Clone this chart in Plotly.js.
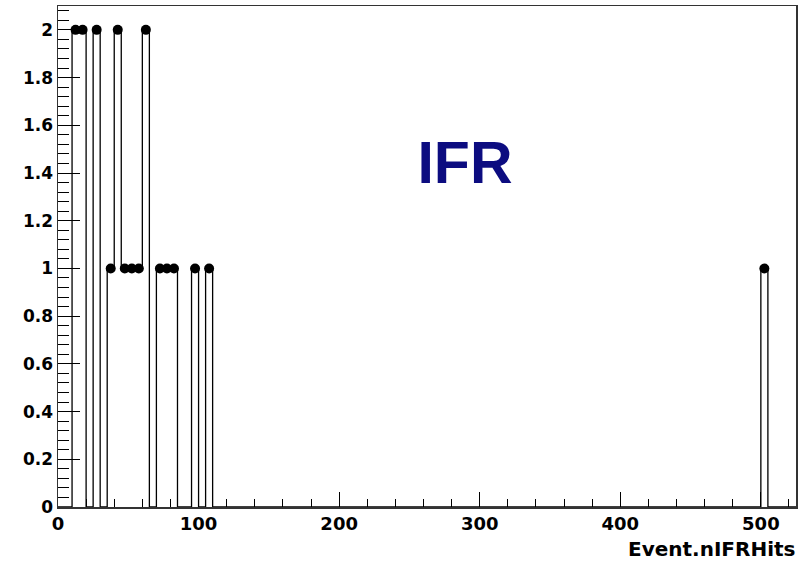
<!DOCTYPE html>
<html>
<head>
<meta charset="utf-8">
<script src="https://cdn.plot.ly/plotly-3.0.1.min.js"></script>
<style>html,body{margin:0;padding:0;background:#fff;}#chart{width:807px;height:565px;}</style>
</head>
<body>
<div id="chart"></div>
<script>
// Histogram of Event.nIFRHits: bin width 5, range 0..525
const binWidth = 5;
const xMin = 0;
const xMax = 525;
const binLowEdges = [10, 15, 25, 35, 40, 45, 50, 55, 60, 70, 75, 80, 95, 105, 500];
const binCounts   = [2,  2,  2,  1,  2,  1,  1,  1,  2,  1,  1,  1,  1,  1,  1];
const xTickVals = [0, 100, 200, 300, 400, 500];
const yTickVals = [0, 0.2, 0.4, 0.6, 0.8, 1, 1.2, 1.4, 1.6, 1.8, 2];

// full step outline (zero-filled bins)
const nBins = Math.round((xMax - xMin) / binWidth);
const edges = [];
const contents = [];
for (let i = 0; i <= nBins; i++) {
  const e = xMin + i * binWidth;
  edges.push(e);
  const k = binLowEdges.indexOf(e);
  contents.push(k >= 0 ? binCounts[k] : 0);
}
contents[nBins] = contents[nBins - 1];

const centers = binLowEdges.map(e => e + binWidth / 2);

const font = 'Liberation Sans, Arial, Helvetica, sans-serif';
const wideFont = 'DejaVu Sans, Liberation Sans, sans-serif';

const traces = [
  {
    type: 'scatter', mode: 'lines', x: edges, y: contents,
    line: {shape: 'hv', color: '#000', width: 1.3},
    hoverinfo: 'skip', showlegend: false, cliponaxis: false
  },
  {
    type: 'scatter', mode: 'markers', x: centers, y: binCounts,
    marker: {symbol: 'circle', size: 10, color: '#000'},
    showlegend: false, cliponaxis: false
  }
];

const layout = {
  width: 807, height: 565,
  margin: {l: 58, r: 11, t: 6, b: 58},
  paper_bgcolor: '#fff', plot_bgcolor: '#fff',
  title: {
    text: '<b>IFR</b>',
    font: {family: font, size: 59, color: '#0c0c80'},
    x: 465 / 807, xanchor: 'center', xref: 'container',
    y: 1 - 162 / 565, yanchor: 'middle', yref: 'container'
  },
  xaxis: {
    range: [xMin, xMax], tickvals: xTickVals,
    ticks: 'inside', ticklen: 15, tickwidth: 1, tickcolor: '#000',
    minor: {dtick: 20, tick0: 0, ticks: 'inside', ticklen: 8, tickwidth: 1, tickcolor: '#000', showgrid: false},
    showgrid: false, zeroline: false,
    showline: true, linecolor: '#333', linewidth: 1.5, mirror: true,
    tickfont: {family: wideFont, size: 18, color: '#000', weight: 'bold'}
  },
  yaxis: {
    range: [0, 2.1], tickvals: yTickVals,
    ticks: 'inside', ticklen: 22, tickwidth: 1, tickcolor: '#000',
    minor: {dtick: 0.04, tick0: 0, ticks: 'inside', ticklen: 11, tickwidth: 1, tickcolor: '#000', showgrid: false},
    showgrid: false, zeroline: false,
    showline: true, linecolor: '#333', linewidth: 1.5, mirror: true,
    tickfont: {family: wideFont, size: 17, color: '#000', weight: 'bold'}
  },
  annotations: [
    {
      text: '<b>Event.nIFRHits</b>', xref: 'paper', yref: 'paper',
      x: 1, y: 0, xanchor: 'right', yanchor: 'top', yshift: -28, xshift: 1,
      showarrow: false, font: {family: wideFont, size: 20, color: '#000'}
    }
  ]
};

Plotly.newPlot('chart', traces, layout, {displayModeBar: false, staticPlot: true});
</script>
</body>
</html>
